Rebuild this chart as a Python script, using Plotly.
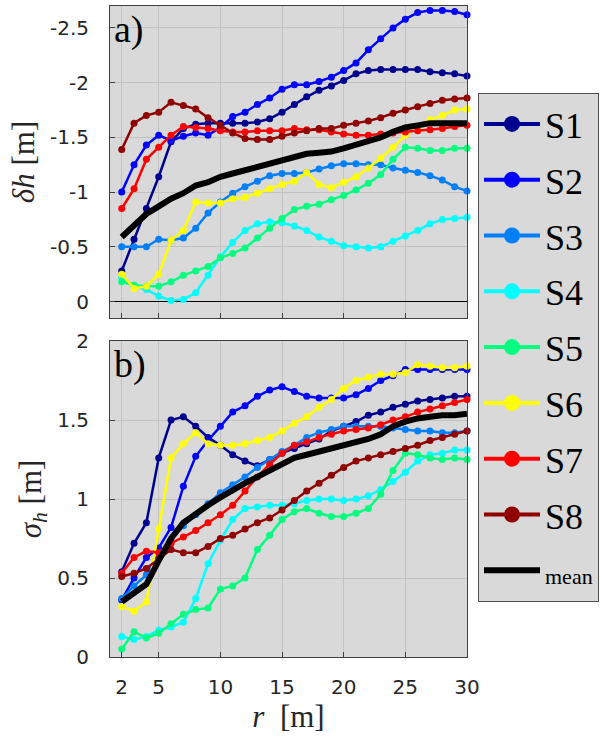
import plotly.graph_objects as go
from plotly.subplots import make_subplots

r = list(range(2, 31))

names = ["S1", "S2", "S3", "S4", "S5", "S6", "S7", "S8"]
colors = ["#000090", "#0000FF", "#0080FF", "#00FFFF", "#00FF80", "#FFFF00", "#FF0000", "#900000"]

dh_S1 = [-0.28, -0.57, -0.85, -1.14, -1.46, -1.58, -1.62, -1.63, -1.63, -1.63, -1.63, -1.64, -1.67, -1.73, -1.80,
         -1.87, -1.93, -1.97, -2.02, -2.08, -2.11, -2.12, -2.12, -2.12, -2.12, -2.10, -2.09, -2.08, -2.06]
dh_S2 = [-1.00, -1.25, -1.43, -1.52, -1.47, -1.51, -1.54, -1.52, -1.59, -1.69, -1.73, -1.80, -1.86, -1.94, -1.98,
         -1.98, -2.01, -2.05, -2.11, -2.18, -2.30, -2.40, -2.50, -2.58, -2.64, -2.66, -2.66, -2.65, -2.62]
dh_S3 = [-0.50, -0.50, -0.50, -0.57, -0.56, -0.58, -0.67, -0.81, -0.91, -0.99, -1.05, -1.10, -1.15, -1.17, -1.17,
         -1.18, -1.21, -1.24, -1.26, -1.26, -1.25, -1.25, -1.22, -1.20, -1.18, -1.15, -1.11, -1.05, -1.01]
dh_S4 = [-0.22, -0.14, -0.11, -0.05, -0.01, -0.02, -0.08, -0.24, -0.41, -0.54, -0.65, -0.71, -0.73, -0.72, -0.69,
         -0.65, -0.59, -0.55, -0.51, -0.50, -0.49, -0.50, -0.55, -0.60, -0.65, -0.71, -0.75, -0.76, -0.77]
dh_S5 = [-0.18, -0.15, -0.14, -0.14, -0.18, -0.24, -0.28, -0.32, -0.40, -0.44, -0.49, -0.58, -0.67, -0.76, -0.84,
         -0.87, -0.89, -0.93, -0.97, -1.02, -1.08, -1.16, -1.30, -1.41, -1.40, -1.38, -1.38, -1.40, -1.40]
dh_S6 = [-0.25, -0.12, -0.14, -0.25, -0.56, -0.65, -0.91, -0.90, -0.90, -0.94, -0.95, -0.99, -1.03, -1.07, -1.10,
         -1.18, -1.07, -1.04, -1.09, -1.14, -1.22, -1.31, -1.41, -1.52, -1.60, -1.66, -1.70, -1.75, -1.76]
dh_S7 = [-0.85, -1.03, -1.30, -1.41, -1.52, -1.60, -1.59, -1.58, -1.56, -1.55, -1.55, -1.56, -1.56, -1.56, -1.58,
         -1.57, -1.57, -1.55, -1.53, -1.52, -1.52, -1.53, -1.54, -1.55, -1.56, -1.57, -1.58, -1.60, -1.61]
dh_S8 = [-1.39, -1.63, -1.70, -1.73, -1.82, -1.79, -1.76, -1.68, -1.61, -1.54, -1.49, -1.48, -1.48, -1.51, -1.54,
         -1.56, -1.58, -1.58, -1.61, -1.63, -1.65, -1.68, -1.72, -1.75, -1.78, -1.81, -1.84, -1.85, -1.86]
dh_mean = [-0.59, -0.70, -0.80, -0.87, -0.94, -0.99, -1.06, -1.09, -1.14, -1.17, -1.20, -1.24, -1.27, -1.30, -1.33,
           -1.35, -1.36, -1.37, -1.40, -1.43, -1.46, -1.50, -1.55, -1.59, -1.61, -1.63, -1.63, -1.63, -1.63]

sig_S1 = [0.54, 0.72, 0.85, 1.26, 1.50, 1.52, 1.46, 1.39, 1.34, 1.28, 1.24, 1.21, 1.25, 1.29, 1.32,
          1.35, 1.38, 1.43, 1.46, 1.49, 1.53, 1.55, 1.58, 1.60, 1.62, 1.63, 1.64, 1.65, 1.65]
sig_S2 = [0.36, 0.50, 0.63, 0.69, 0.82, 1.08, 1.27, 1.37, 1.46, 1.55, 1.59, 1.65, 1.69, 1.71, 1.68,
          1.65, 1.64, 1.64, 1.64, 1.66, 1.70, 1.75, 1.78, 1.82, 1.82, 1.82, 1.82, 1.82, 1.82]
sig_S3 = [0.37, 0.45, 0.52, 0.63, 0.74, 0.83, 0.90, 0.97, 1.04, 1.09, 1.14, 1.20, 1.25, 1.30, 1.34,
          1.39, 1.42, 1.44, 1.46, 1.46, 1.46, 1.46, 1.45, 1.44, 1.43, 1.43, 1.42, 1.42, 1.43]
sig_S4 = [0.13, 0.11, 0.13, 0.17, 0.19, 0.22, 0.37, 0.59, 0.74, 0.87, 0.94, 0.95, 0.96, 0.96, 0.97,
          0.99, 1.00, 1.00, 0.99, 1.00, 1.02, 1.06, 1.11, 1.17, 1.24, 1.28, 1.29, 1.31, 1.31]
sig_S5 = [0.05, 0.16, 0.12, 0.15, 0.21, 0.27, 0.30, 0.31, 0.43, 0.45, 0.50, 0.68, 0.77, 0.87, 0.92,
          0.94, 0.91, 0.89, 0.89, 0.91, 0.94, 1.03, 1.18, 1.29, 1.28, 1.26, 1.25, 1.26, 1.25]
sig_S6 = [0.32, 0.29, 0.35, 0.81, 1.26, 1.35, 1.42, 1.35, 1.34, 1.34, 1.35, 1.37, 1.39, 1.43, 1.48,
          1.52, 1.58, 1.63, 1.70, 1.75, 1.77, 1.79, 1.79, 1.80, 1.85, 1.84, 1.83, 1.83, 1.84]
sig_S7 = [0.53, 0.63, 0.67, 0.66, 0.72, 0.76, 0.80, 0.85, 0.90, 0.96, 1.05, 1.14, 1.22, 1.29, 1.34,
          1.36, 1.39, 1.41, 1.43, 1.44, 1.45, 1.47, 1.50, 1.52, 1.55, 1.57, 1.59, 1.61, 1.63]
sig_S8 = [0.51, 0.53, 0.56, 0.62, 0.68, 0.66, 0.66, 0.70, 0.75, 0.77, 0.81, 0.85, 0.88, 0.93, 0.99,
          1.05, 1.10, 1.15, 1.20, 1.24, 1.26, 1.28, 1.30, 1.32, 1.34, 1.37, 1.39, 1.41, 1.43]
sig_mean = [0.35, 0.40, 0.46, 0.61, 0.75, 0.85, 0.91, 0.96, 1.01, 1.06, 1.10, 1.14, 1.18, 1.22, 1.26,
            1.28, 1.30, 1.32, 1.34, 1.36, 1.38, 1.41, 1.46, 1.49, 1.51, 1.52, 1.53, 1.53, 1.54]

dh_series = [dh_S1, dh_S2, dh_S3, dh_S4, dh_S5, dh_S6, dh_S7, dh_S8]
sig_series = [sig_S1, sig_S2, sig_S3, sig_S4, sig_S5, sig_S6, sig_S7, sig_S8]

x_ticks = [2, 5, 10, 15, 20, 25, 30]
dh_ticks = [0, -0.5, -1, -1.5, -2, -2.5]
dh_ticktext = ["0", "-0.5", "-1", "-1.5", "-2", "-2.5"]
sig_ticks = [0, 0.5, 1, 1.5, 2]
sig_ticktext = ["0", "0.5", "1", "1.5", "2"]

W, H = 601, 738
ml, mr, mt, mb = 110, W - 467, 6, H - 657
ph = H - mt - mb

fig = make_subplots(rows=2, cols=1, shared_xaxes=False, vertical_spacing=0.0)

for i, name in enumerate(names):
    fig.add_trace(go.Scatter(x=r, y=dh_series[i], mode="lines+markers", showlegend=False,
                             line=dict(color=colors[i], width=2.5), marker=dict(color=colors[i], size=7),
                             cliponaxis=False), row=1, col=1)
    fig.add_trace(go.Scatter(x=r, y=sig_series[i], mode="lines+markers", showlegend=False,
                             line=dict(color=colors[i], width=2.5), marker=dict(color=colors[i], size=7),
                             cliponaxis=False), row=2, col=1)
fig.add_trace(go.Scatter(x=r, y=dh_mean, mode="lines", showlegend=False,
                         line=dict(color="black", width=6)), row=1, col=1)
fig.add_trace(go.Scatter(x=r, y=sig_mean, mode="lines", showlegend=False,
                         line=dict(color="black", width=6)), row=2, col=1)

# legend entries
for i, name in enumerate(names):
    fig.add_trace(go.Scatter(x=[None], y=[None], mode="lines+markers", name=name, legendgroup=name,
                             line=dict(color=colors[i], width=4), marker=dict(color=colors[i], size=16)),
                  row=1, col=1)
fig.add_trace(go.Scatter(x=[None], y=[None], mode="lines", legendgroup="mean",
                         name="<span style='font-size:22px'>mean</span>",
                         line=dict(color="black", width=6)), row=1, col=1)

axis_col = "#404040"
grid_col = "#c2c2c2"
bg = "#d9d9d9"
tick_font = dict(family="DejaVu Sans", size=20, color="#262626")
serif = "Liberation Serif"

xcommon = dict(range=[1.05, 30], tickvals=x_ticks, showgrid=True, gridcolor=grid_col, gridwidth=1,
               showline=True, linecolor=axis_col, linewidth=1, mirror=True, ticks="inside",
               ticklen=5, tickcolor=axis_col, zeroline=False, tickfont=tick_font)
fig.update_xaxes(**xcommon, showticklabels=False, row=1, col=1)
fig.update_xaxes(**xcommon, showticklabels=True, ticklabelstandoff=12, row=2, col=1,
                 title=dict(text="<i>r</i>  [m]", font=dict(family=serif, size=31, color="#262626"), standoff=0))

ycommon = dict(showgrid=True, gridcolor=grid_col, gridwidth=1, showline=True, linecolor=axis_col,
               linewidth=1, mirror=True, ticks="inside", ticklen=5, tickcolor=axis_col,
               tickfont=tick_font, ticklabelstandoff=16)
fig.update_yaxes(**ycommon, range=[0.15, -2.7], tickvals=dh_ticks, ticktext=dh_ticktext,
                 zeroline=True, zerolinecolor="black", zerolinewidth=1,
                 title=dict(text="<i>δh</i> [m]", font=dict(family=serif, size=31, color="#262626"), standoff=6),
                 row=1, col=1)
fig.update_yaxes(**ycommon, range=[0, 2], tickvals=sig_ticks, ticktext=sig_ticktext, zeroline=False,
                 title=dict(text="<i>σ<sub>h</sub></i> [m]", font=dict(family=serif, size=31, color="#262626"), standoff=6),
                 row=2, col=1)

top_dom = [(657 - 318) / ph, 1.0]
bot_dom = [0.0, (657 - 341) / ph]
fig.update_layout(yaxis=dict(domain=top_dom), yaxis2=dict(domain=bot_dom))

fig.add_annotation(text="a)", x=0.005, y=1.0, xref="paper", yref="paper", xanchor="left", yanchor="top",
                   showarrow=False, font=dict(family=serif, size=38, color="black"))
fig.add_annotation(text="b)", x=0.005, y=bot_dom[1], xref="paper", yref="paper", xanchor="left",
                   yanchor="top", showarrow=False, font=dict(family=serif, size=38, color="black"))

fig.update_layout(
    width=W, height=H,
    margin=dict(l=ml, r=mr, t=mt, b=mb, autoexpand=False),
    paper_bgcolor="white",
    plot_bgcolor=bg,
    legend=dict(x=(478 - ml) / (W - ml - mr), y=(657 - 93) / ph, xanchor="left", yanchor="top",
                bgcolor=bg, bordercolor="#505050", borderwidth=1,
                font=dict(family=serif, size=36, color="black"),
                itemwidth=56, tracegroupgap=6, itemclick=False),
)

fig.write_html("out.html")
